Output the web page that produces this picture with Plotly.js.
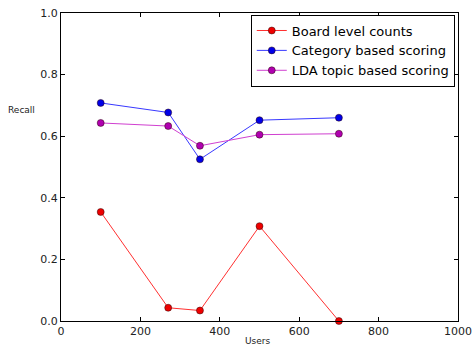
<!DOCTYPE html>
<html><head><meta charset="utf-8">
<script src="https://cdn.plot.ly/plotly-3.0.1.min.js"></script>
<style>body{margin:0;padding:0;background:#fff}#chart{width:472px;height:347px}</style>
</head><body><div id="chart"></div>
<script>
const users = [100, 270, 350, 500, 700];
const boardLevel = [0.354, 0.043, 0.034, 0.308, 0.0];
const categoryScoring = [0.708, 0.677, 0.525, 0.652, 0.660];
const ldaScoring = [0.643, 0.633, 0.569, 0.605, 0.608];
const seriesNames = ["Board level counts", "Category based scoring", "LDA topic based scoring"];
const xTicks = [0, 200, 400, 600, 800, 1000];
const yTicks = [0.0, 0.2, 0.4, 0.6, 0.8, 1.0];

function tr(y, name, lineCol, markCol) {
  return {x: users, y: y, name: name, type: 'scatter', mode: 'lines+markers',
    line: {color: lineCol, width: 1}, cliponaxis: false,
    marker: {color: markCol, size: 7, line: {color: 'rgba(40,0,0,0.8)', width: 0.6}}};
}
const data = [
  tr(boardLevel, seriesNames[0], '#ff3030', '#ee0000'),
  tr(categoryScoring, seriesNames[1], '#3838ff', '#0000e8'),
  tr(ldaScoring, seriesNames[2], '#d040d0', '#b000b0')
];
const axisCommon = {showgrid: false, zeroline: false, showline: true, mirror: 'ticks',
  linecolor: '#000', linewidth: 1, ticks: 'inside', ticklen: 4, tickcolor: '#000',
  tickfont: {family: 'DejaVu Sans', size: 11, color: '#222'}};
const layout = {
  width: 472, height: 347,
  margin: {l: 61, r: 14, t: 13, b: 26},
  paper_bgcolor: '#fff', plot_bgcolor: '#fff',
  showlegend: true,
  xaxis: Object.assign({}, axisCommon, {range: [0, 1000], tickvals: xTicks, ticktext: xTicks.map(String)}),
  yaxis: Object.assign({}, axisCommon, {range: [0, 1], tickvals: yTicks, ticktext: yTicks.map(v => v.toFixed(1))}),
  legend: {x: 0.478, y: 0.995, xanchor: 'left', yanchor: 'top', bordercolor: '#000', borderwidth: 1,
    bgcolor: '#fff', font: {family: 'DejaVu Sans', size: 13, color: '#000'}, tracegroupgap: 0, itemwidth: 30},
  annotations: [
    {text: 'Recall', xref: 'paper', yref: 'paper', x: -0.138, y: 0.685, xanchor: 'left', yanchor: 'middle',
     showarrow: false, font: {family: 'DejaVu Sans', size: 9, color: '#222'}},
    {text: 'Users', xref: 'paper', yref: 'paper', x: 0.497, y: -0.065, xanchor: 'center', yanchor: 'middle',
     showarrow: false, font: {family: 'DejaVu Sans', size: 9, color: '#222'}}
  ]
};
Plotly.newPlot('chart', data, layout, {displayModeBar: false, staticPlot: true});
</script></body></html>
